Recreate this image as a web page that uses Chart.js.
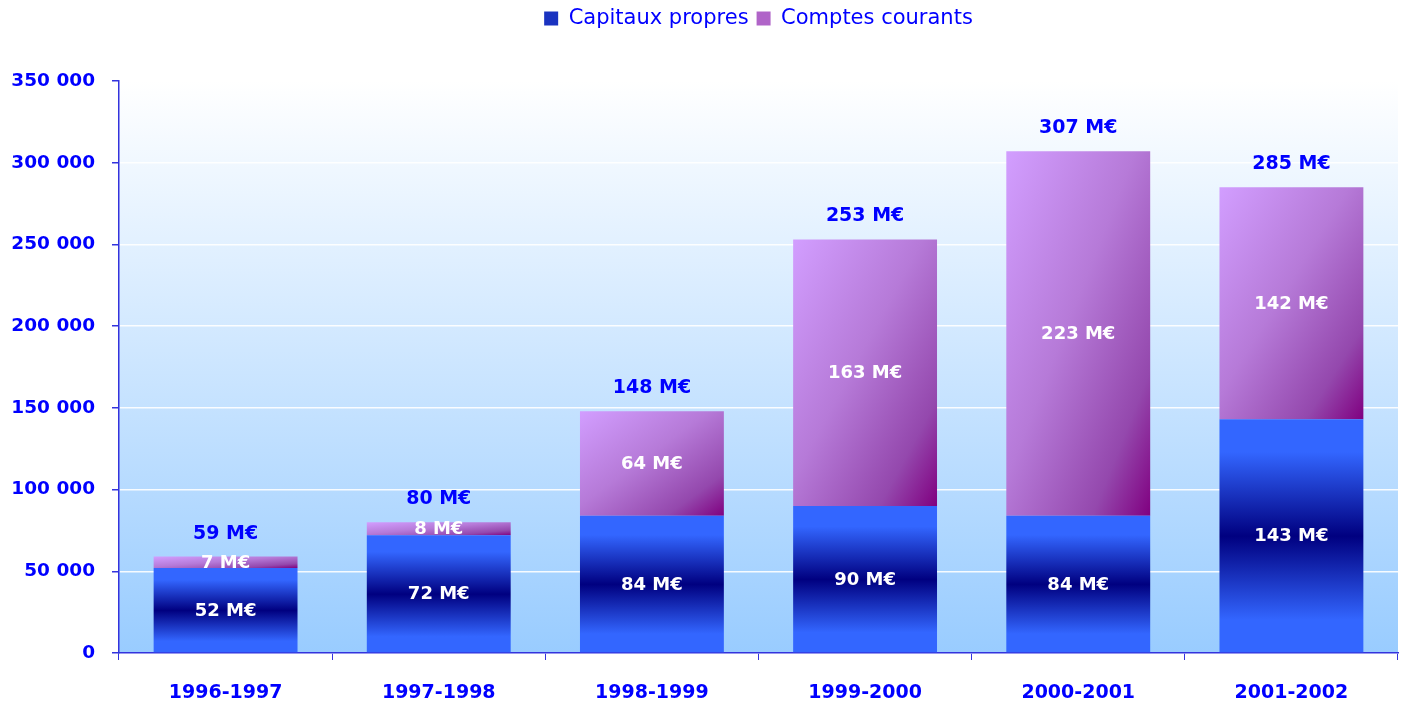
<!DOCTYPE html>
<html>
<head>
<meta charset="utf-8">
<script src="https://cdn.jsdelivr.net/npm/chart.js@4.4.1/dist/chart.umd.min.js"></script>
<style>
  html, body { margin: 0; padding: 0; background: #fff; }
  #wrap { position: relative; width: 1404px; height: 706px; }
</style>
</head>
<body>
<div id="wrap"><canvas id="chart"></canvas></div>
<script>
// exercices et montants (en milliers d'euros)
const years = ['1996-1997', '1997-1998', '1998-1999', '1999-2000', '2000-2001', '2001-2002'];
const capitauxPropres = [52000, 72000, 84000, 90000, 84000, 143000];
const comptesCourants = [7000, 8000, 64000, 163000, 223000, 142000];
const yTicks = [0, 50000, 100000, 150000, 200000, 250000, 300000, 350000];

const blue = '#0000ff';
const axisBlue = '#3333dd';
const font = 'DejaVu Sans';
const legendColors = ['#1a33c0', '#b064c8'];

const fmtTick = v => v === 0 ? '0' : (v / 1000) + ' 000';
const fmtME = v => Math.round(v / 1000) + ' M€';

// vertical blue gradient, dark in the middle of each bar
function blueFill(ctx) {
    if (ctx.type !== 'data') return legendColors[0];
    const chart = ctx.chart;
    const y = chart.scales.y;
    if (!y || !chart.chartArea) return '#3366ff';
    const top = y.getPixelForValue(ctx.raw);
    const bot = y.getPixelForValue(0);
    const g = chart.ctx.createLinearGradient(0, top, 0, bot);
    g.addColorStop(0, '#3366ff');
    g.addColorStop(0.14, '#3366ff');
    g.addColorStop(0.5, '#000080');
    g.addColorStop(0.86, '#3366ff');
    g.addColorStop(1, '#3366ff');
    return g;
}

// diagonal purple gradient, isolines along the bar's anti-diagonal
function purpleFill(ctx) {
    if (ctx.type !== 'data') return legendColors[1];
    const chart = ctx.chart;
    const x = chart.scales.x, y = chart.scales.y;
    if (!x || !y || !chart.chartArea) return legendColors[1];
    const i = ctx.dataIndex;
    const base = capitauxPropres[i];
    const top = y.getPixelForValue(base + ctx.raw);
    const bot = y.getPixelForValue(base);
    const w = 144;
    const h = Math.max(1, bot - top);
    const x0 = x.getPixelForValue(i) - w / 2;
    const L2 = w * w + h * h;
    const g = chart.ctx.createLinearGradient(x0, top, x0 + 2 * w * h * h / L2, top + 2 * w * w * h / L2);
    g.addColorStop(0, '#d29eff');
    g.addColorStop(0.45, '#b67ad8');
    g.addColorStop(0.8, '#9448ad');
    g.addColorStop(1, '#800080');
    return g;
}

// plot background: white at top, light blue at bottom
const plotBackground = {
    id: 'plotBackground',
    beforeDraw(chart) {
        const a = chart.chartArea;
        const c = chart.ctx;
        const g = c.createLinearGradient(0, a.top, 0, a.bottom);
        g.addColorStop(0, '#ffffff');
        g.addColorStop(1, '#99ccff');
        c.save();
        c.fillStyle = g;
        c.fillRect(a.left, a.top, a.right - a.left, a.bottom - a.top);
        c.restore();
    }
};

// extra room between legend and plot
const legendGap = {
    id: 'legendGap',
    afterInit(chart) {
        const lg = chart.legend;
        if (!lg) return;
        const fit = lg.fit;
        lg.fit = function () {
            fit.call(this);
            this.height += 42;
        };
    }
};

// value labels inside segments and totals above bars
const valueLabels = {
    id: 'valueLabels',
    afterDatasetsDraw(chart) {
        const c = chart.ctx;
        c.save();
        c.textAlign = 'center';
        c.textBaseline = 'middle';
        c.font = 'bold 18px "' + font + '"';
        c.fillStyle = '#ffffff';
        chart.data.datasets.forEach((ds, di) => {
            chart.getDatasetMeta(di).data.forEach((bar, i) => {
                const mid = (bar.y + bar.base) / 2;
                c.fillText(fmtME(ds.data[i]), bar.x, mid + 1);
            });
        });
        c.font = 'bold 19px "' + font + '"';
        c.fillStyle = blue;
        const top = chart.getDatasetMeta(1).data;
        top.forEach((bar, i) => {
            const total = capitauxPropres[i] + comptesCourants[i];
            c.fillText(fmtME(total), bar.x, bar.y - 23);
        });
        c.restore();
    }
};

new Chart(document.getElementById('chart'), {
    type: 'bar',
    data: {
        labels: years,
        datasets: [
            { label: 'Capitaux propres', data: capitauxPropres, backgroundColor: blueFill, borderWidth: 0 },
            { label: 'Comptes courants', data: comptesCourants, backgroundColor: purpleFill, borderWidth: 0 }
        ]
    },
    options: {
        responsive: true,
        maintainAspectRatio: false,
        animation: false,
        devicePixelRatio: 1,
        barPercentage: 0.675,
        categoryPercentage: 1,
        layout: { padding: { left: 0, right: 6, top: 0, bottom: 0 } },
        scales: {
            x: {
                stacked: true,
                afterFit: s => { s.height = 53; },
                border: { display: true, color: axisBlue, width: 1.5 },
                grid: {
                    offset: true,
                    drawOnChartArea: false,
                    drawTicks: true,
                    tickLength: 7,
                    tickColor: axisBlue
                },
                ticks: {
                    color: blue,
                    padding: 22,
                    font: { family: font, size: 19, weight: 'bold' }
                }
            },
            y: {
                stacked: true,
                min: 0,
                max: 350000,
                afterBuildTicks: s => { s.ticks = yTicks.map(v => ({ value: v })); },
                afterFit: s => { s.width = 119; },
                border: { display: true, color: axisBlue, width: 1.5 },
                grid: {
                    color: 'rgba(255,255,255,0.9)',
                    lineWidth: 1.5,
                    tickLength: 7,
                    tickColor: axisBlue
                },
                ticks: {
                    color: blue,
                    padding: 17,
                    callback: v => fmtTick(v),
                    font: { family: font, size: 18.5, weight: 'bold' }
                }
            }
        },
        plugins: {
            legend: {
                position: 'top',
                fullSize: false,
                labels: {
                    color: blue,
                    boxWidth: 14,
                    boxHeight: 14,
                    padding: 8,
                    font: { family: font, size: 21 },
                    generateLabels: chart => {
                        const items = Chart.defaults.plugins.legend.labels.generateLabels(chart);
                        items.forEach((it, k) => {
                            it.fillStyle = legendColors[k];
                            it.strokeStyle = legendColors[k];
                            it.lineWidth = 0;
                        });
                        return items;
                    }
                }
            },
            tooltip: { enabled: false }
        }
    },
    plugins: [plotBackground, legendGap, valueLabels]
});
</script>
</body>
</html>
